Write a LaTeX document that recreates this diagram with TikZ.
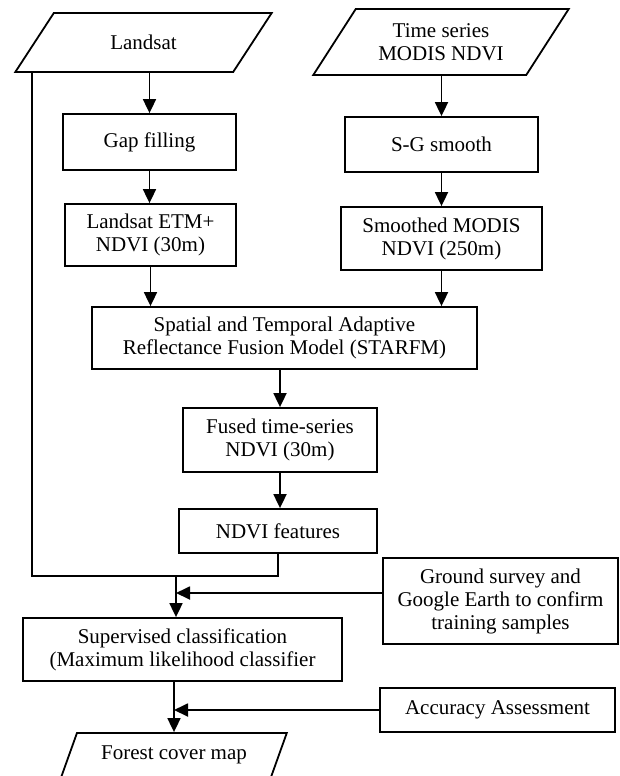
\documentclass[tikz,border=0pt]{standalone}
\usepackage{fontspec}
\setmainfont{Liberation Serif}
\usetikzlibrary{arrows.meta,shapes.geometric}

\begin{document}
\begin{tikzpicture}[x=1pt, y=-1pt, line width=1.8pt,
    font=\fontsize{21}{23}\selectfont,
    box/.style={draw, rectangle, align=center, inner sep=0pt},
    iobox/.style={draw, trapezium, trapezium stretches=true, align=center, inner sep=0pt},
    arr/.style={-{Triangle[length=14pt,width=13pt]}}]
    \useasboundingbox (0,0) rectangle (619,776);

    % Inputs
    \node[iobox, trapezium left angle=46, trapezium right angle=134,
          minimum width=257pt, minimum height=59pt] (landsat) at (143.5,42.5) {Landsat};
    \node[iobox, trapezium left angle=50, trapezium right angle=130,
          minimum width=256pt, minimum height=66pt] (modis) at (441,42) {Time series\\MODIS NDVI};

    % Processing steps
    \node[box, minimum width=173pt, minimum height=56pt] (gap) at (149.5,142) {Gap filling};
    \node[box, minimum width=171pt, minimum height=62pt] (etm) at (150.5,235) {Landsat ETM+\\NDVI (30m)};
    \node[box, minimum width=193pt, minimum height=55pt] (sg) at (441.5,144.5) {S-G smooth};
    \node[box, minimum width=201pt, minimum height=63pt] (smooth) at (441.5,238.5) {Smoothed MODIS\\NDVI (250m)};
    \node[box, minimum width=385pt, minimum height=62pt] (starfm) at (284.5,338) {Spatial and Temporal Adaptive\\Reflectance Fusion Model (STARFM)};
    \node[box, minimum width=194pt, minimum height=64pt] (fused) at (280,440) {Fused time-series\\NDVI (30m)};
    \node[box, minimum width=198pt, minimum height=44pt] (feat) at (278,531) {NDVI features};
    \node[box, minimum width=235pt, minimum height=86pt] (ground) at (500.5,601) {Ground survey and\\Google Earth to confirm\\training samples};
    \node[box, minimum width=319pt, minimum height=63pt] (super) at (182.5,649.5) {Supervised classification\\(Maximum likelihood classifier};
    \node[box, minimum width=235pt, minimum height=44pt] (acc) at (497.5,710) {Accuracy Assessment};

    % Output
    \node[iobox, trapezium left angle=57, trapezium right angle=123,
          minimum width=226pt, minimum height=44pt] (forest) at (174,755) {Forest cover map};

    % Junctions
    \coordinate (lleft) at (32,576);
    \coordinate (join) at (176,576);
    \coordinate (join2) at (174,709);

    % Arrows
    \draw[arr] (landsat.south -| gap.north) -- (gap.north);
    \draw[arr] (gap.south) -- (gap.south |- etm.north);
    \draw[arr] (modis.south -| sg.north) -- (sg.north);
    \draw[arr] (sg.south) -- (smooth.north);
    \draw[arr] (etm.south) -- (etm.south |- starfm.north);
    \draw[arr] (smooth.south) -- (smooth.south |- starfm.north);
    \draw[arr] (starfm.south -| fused.north) -- (fused.north);
    \draw[arr] (fused.south) -- (fused.south |- feat.north);
    \draw (feat.south) |- (lleft) -- (lleft |- landsat.south);
    \draw[arr] (join) -- (join |- super.north);
    \draw[arr] ([yshift=8pt]ground.west) -- ([yshift=8pt]ground.west -| join);
    \draw[arr] (super.south -| join2) -- (join2 |- forest.north);
    \draw[arr] (acc.west) -- (acc.west -| join2);
\end{tikzpicture}
\end{document}
